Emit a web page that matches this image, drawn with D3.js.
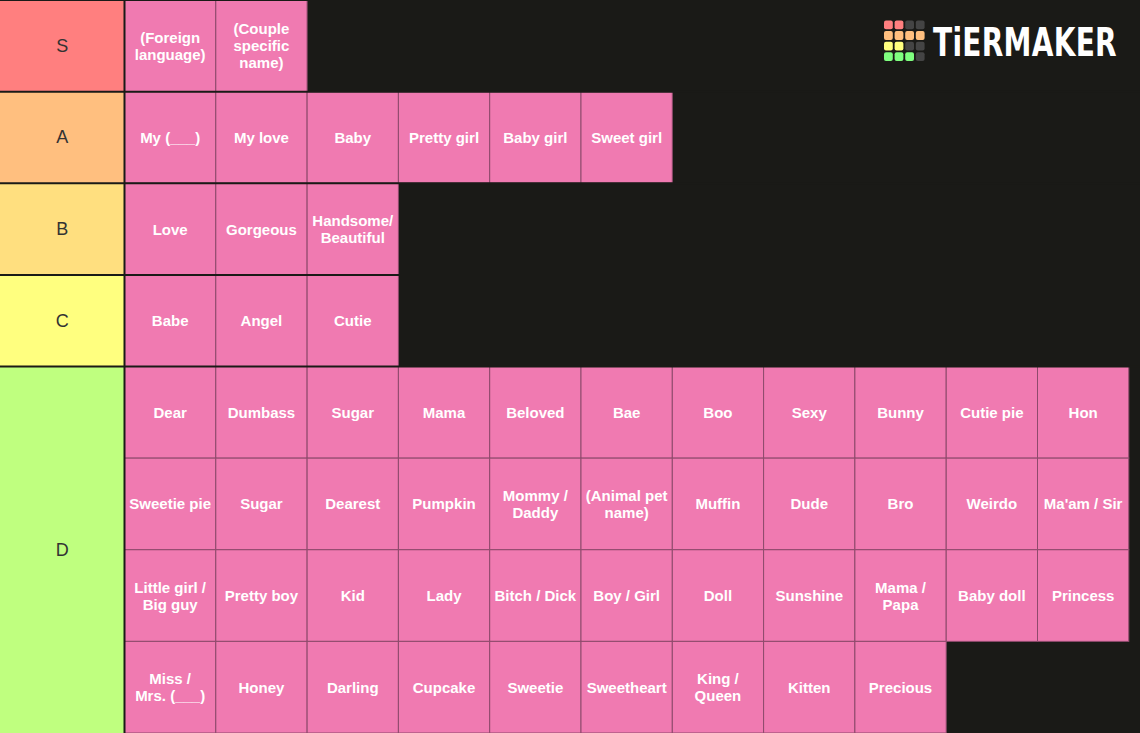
<!DOCTYPE html>
<html>
<head>
<meta charset="utf-8">
<script src="https://cdn.jsdelivr.net/npm/d3@7"></script>
<style>
html,body{margin:0;padding:0;background:#1a1a17;}
svg{display:block;}
</style>
</head>
<body>
<script>
// ---- Data ----
const tiers = ["S", "A", "B", "C", "D"];
const itemsS = ["(Foreign\nlanguage)", "(Couple\nspecific\nname)"];
const itemsA = ["My (___)", "My love", "Baby", "Pretty girl", "Baby girl", "Sweet girl"];
const itemsB = ["Love", "Gorgeous", "Handsome/\nBeautiful"];
const itemsC = ["Babe", "Angel", "Cutie"];
const itemsD = [
  "Dear", "Dumbass", "Sugar", "Mama", "Beloved", "Bae", "Boo", "Sexy", "Bunny", "Cutie pie", "Hon",
  "Sweetie pie", "Sugar", "Dearest", "Pumpkin", "Mommy /\nDaddy", "(Animal pet\nname)", "Muffin", "Dude", "Bro", "Weirdo", "Ma'am / Sir",
  "Little girl /\nBig guy", "Pretty boy", "Kid", "Lady", "Bitch / Dick", "Boy / Girl", "Doll", "Sunshine", "Mama /\nPapa", "Baby doll", "Princess",
  "Miss /\nMrs. (___)", "Honey", "Darling", "Cupcake", "Sweetie", "Sweetheart", "King /\nQueen", "Kitten", "Precious"
];
const tierItems = [itemsS, itemsA, itemsB, itemsC, itemsD];
const logoText = "TiERMAKER";

// ---- Layout ----
const W = 1140, H = 733, labelW = 124.5, cols = 11;
const color = d3.scaleOrdinal().domain(tiers).range(["#ff7f7f", "#ffbf7f", "#ffdf7f", "#ffff7f", "#bfff7f"]);
const rowsPer = tierItems.map(a => Math.max(1, Math.ceil(a.length / cols)));
const rowStart = rowsPer.map((r, i) => d3.sum(rowsPer.slice(0, i)));
const totalRows = d3.sum(rowsPer);
const y = d3.scaleLinear().domain([0, totalRows]).range([0, H]);
const x = d3.scaleBand().domain(d3.range(cols)).range([labelW, labelW + 91.3 * cols]);

const svg = d3.select("body").append("svg").attr("width", W).attr("height", H);
svg.append("rect").attr("width", W).attr("height", H).attr("fill", "#1a1a17");

const g = svg.selectAll("g.tier").data(tiers).join("g").attr("class", "tier");

// labels
g.append("rect")
  .attr("x", 0).attr("y", (d, i) => y(rowStart[i]))
  .attr("width", labelW).attr("height", (d, i) => y(rowsPer[i]) - y(0))
  .attr("fill", d => color(d));
g.append("text")
  .attr("x", labelW / 2).attr("y", (d, i) => y(rowStart[i] + rowsPer[i] / 2))
  .attr("text-anchor", "middle").attr("dominant-baseline", "central")
  .attr("font-family", "Liberation Sans, Arial, sans-serif").attr("font-size", 18)
  .attr("fill", "#333").text(d => d);

// items
const items = tierItems.flatMap((arr, ti) => arr.map((t, k) => ({ t, ti, c: k % cols, r: rowStart[ti] + Math.floor(k / cols) })));
const cell = svg.selectAll("g.item").data(items).join("g").attr("class", "item")
  .attr("transform", d => `translate(${x(d.c)},${y(d.r)})`);
cell.append("rect")
  .attr("width", x.bandwidth()).attr("height", y(1) - y(0))
  .attr("fill", "#f07ab1").attr("stroke", "#8e4a6c").attr("stroke-width", 1);
cell.append("text")
  .attr("x", x.bandwidth() / 2)
  .attr("text-anchor", "middle")
  .attr("font-family", "Liberation Sans, Arial, sans-serif").attr("font-weight", "bold").attr("font-size", 15)
  .attr("fill", "#ffffff")
  .each(function (d) {
    const lines = d.t.split("\n");
    const cy = (y(1) - y(0)) / 2;
    const lh = 17;
    d3.select(this).selectAll("tspan").data(lines).join("tspan")
      .attr("x", x.bandwidth() / 2)
      .attr("y", (l, i) => cy + (i - (lines.length - 1) / 2) * lh + 5.5)
      .text(l => l);
  });

// tier separators
svg.selectAll("line.sep").data(rowStart.slice(1)).join("line").attr("class", "sep")
  .attr("x1", 0).attr("x2", W).attr("y1", d => y(d)).attr("y2", d => y(d))
  .attr("stroke", "#1a1a17").attr("stroke-width", 2);
svg.append("line").attr("x1", labelW).attr("x2", labelW).attr("y1", 0).attr("y2", H)
  .attr("stroke", "#1a1a17").attr("stroke-width", 2);
svg.append("line").attr("x1", 0).attr("x2", W).attr("y1", 0.5).attr("y2", 0.5)
  .attr("stroke", "#1a1a17").attr("stroke-width", 1);

// logo
const logoColors = [
  ["#ff7f7f", "#ff7f7f", "#444444", "#444444"],
  ["#ffbf7f", "#ffbf7f", "#ffbf7f", "#ffbf7f"],
  ["#ffff7f", "#ffff7f", "#444444", "#444444"],
  ["#7fff7f", "#7fff7f", "#7fff7f", "#444444"]
];
const logo = svg.append("g").attr("transform", "translate(884,20.5)");
logo.selectAll("rect").data(logoColors.flatMap((row, r) => row.map((c, k) => ({ c, r, k })))).join("rect")
  .attr("x", d => d.k * 10.6).attr("y", d => d.r * 10.6)
  .attr("width", 8.8).attr("height", 8.8).attr("rx", 2).attr("fill", d => d.c);
svg.append("text").attr("transform", "translate(933,55.5) scale(1,1.4)")
  .attr("font-family", "DejaVu Sans, sans-serif").attr("font-weight", "bold").attr("font-size", 28)
  .attr("letter-spacing", 0.3)
  .attr("fill", "#ffffff").text(logoText);
</script>
</body>
</html>
